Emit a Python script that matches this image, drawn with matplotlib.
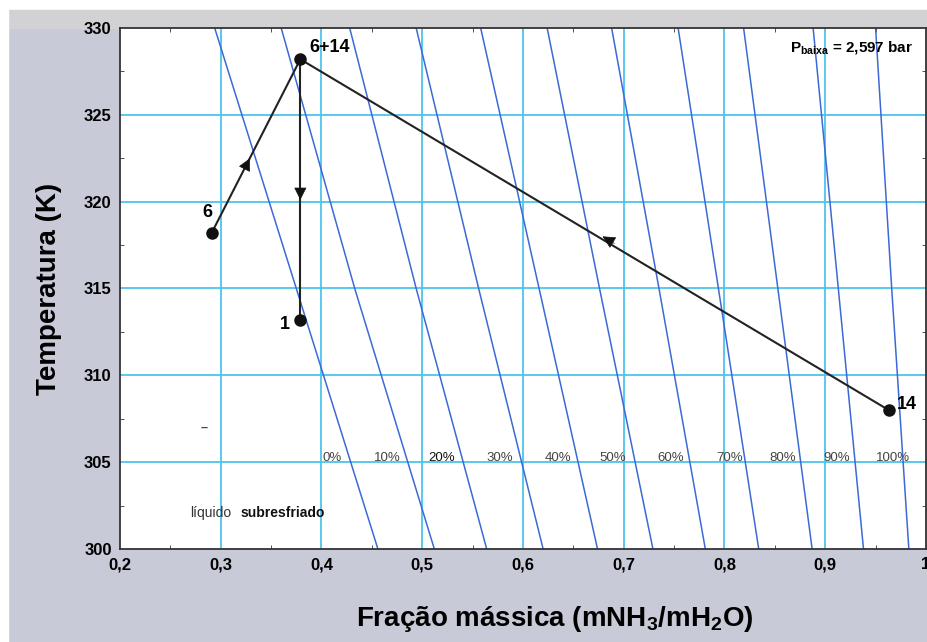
import numpy as np
import matplotlib
matplotlib.use("Agg")
import matplotlib.pyplot as plt
from matplotlib.patches import Rectangle

plt.rcParams['font.family'] = ['Liberation Sans', 'DejaVu Sans']
plt.rcParams['font.weight'] = 'bold'
plt.rcParams['axes.labelweight'] = 'bold'
plt.rcParams['mathtext.fontset'] = 'custom'
plt.rcParams['mathtext.rm'] = 'Liberation Sans:bold'
plt.rcParams['mathtext.bf'] = 'Liberation Sans:bold'
plt.rcParams['mathtext.it'] = 'Liberation Sans:bold'

# isolinhas de titulo (0% .. 100%): fracao em T=330, 315 e 300 K
iso_labels = ["0%", "10%", "20%", "30%", "40%", "50%", "60%", "70%", "80%", "90%", "100%"]
iso_x_top = [0.294, 0.360, 0.428, 0.494, 0.558, 0.624, 0.688, 0.754, 0.819, 0.888, 0.950]
iso_x_mid = [0.375, 0.433, 0.494, 0.556, 0.616, 0.676, 0.735, 0.794, 0.853, 0.913, 0.966]
iso_x_bot = [0.456, 0.512, 0.564, 0.620, 0.674, 0.729, 0.781, 0.834, 0.887, 0.938, 0.983]
iso_T = [330, 315, 300]
iso_lbl_x = [0.411, 0.465, 0.519, 0.577, 0.635, 0.689, 0.747, 0.805, 0.858, 0.911, 0.967]
iso_lbl_T = 305.25

# estados do ciclo
pontos = ["6", "6+14", "1", "14"]
px = [0.291, 0.379, 0.379, 0.963]
pT = [318.2, 328.2, 313.2, 308.0]

# trechos (indices de inicio, fim) e posicao da seta
trechos = [(0, 1), (1, 2), (3, 1)]
seta_x = [0.329, 0.379, 0.679]
seta_T = [322.5, 320.1, 318.0]

xticks = [0.2, 0.3, 0.4, 0.5, 0.6, 0.7, 0.8, 0.9, 1.0]
xticklabels = ["0,2", "0,3", "0,4", "0,5", "0,6", "0,7", "0,8", "0,9", "1"]
yticks = [300, 305, 310, 315, 320, 325, 330]

fig = plt.figure(figsize=(9.28, 6.42), dpi=100, facecolor='#c8cad8')
fig.patches.append(Rectangle((0, 0.985), 1, 0.015, transform=fig.transFigure,
                             color='white', zorder=-2))
fig.patches.append(Rectangle((0, 0.957), 1, 0.028, transform=fig.transFigure,
                             color='#d2d2d4', zorder=-2))
fig.patches.append(Rectangle((0, 0), 0.009, 1, transform=fig.transFigure,
                             color='white', zorder=-2))

ax = fig.add_axes([0.1293, 0.1449, 0.8685, 0.8115])
ax.set_xlim(0.2, 1.0)
ax.set_ylim(300, 330)

for v in xticks[1:-1]:
    ax.axvline(v, color='#4cc4ec', lw=1.3, zorder=1)
for v in yticks[1:-1]:
    ax.axhline(v, color='#4cc4ec', lw=1.3, zorder=1)

for i in range(len(iso_labels)):
    ax.plot([iso_x_top[i], iso_x_mid[i], iso_x_bot[i]], iso_T,
            color='#3b6ad6', lw=1.1, zorder=2)
    c = '#111111' if iso_labels[i] == "20%" else '#444444'
    ax.text(iso_lbl_x[i], iso_lbl_T, iso_labels[i], fontsize=9.5, color=c,
            ha='center', va='center', fontweight='normal', zorder=3)

for a, b in trechos:
    ax.plot([px[a], px[b]], [pT[a], pT[b]], color='#222222', lw=1.5, zorder=4)

# setas no meio dos trechos
for k, (a, b) in enumerate(trechos):
    dx = px[b] - px[a]
    dT = pT[b] - pT[a]
    n = np.hypot(dx / 0.8, dT / 30)
    s = 0.02
    ax.annotate('', xy=(seta_x[k], seta_T[k]),
                xytext=(seta_x[k] - dx / n * s, seta_T[k] - dT / n * s),
                arrowprops=dict(arrowstyle='-|>', color='#111111', lw=0.5,
                                mutation_scale=20, shrinkA=0, shrinkB=0),
                zorder=5)

ax.plot(px, pT, 'o', color='#111111', ms=8, zorder=6)

ax.text(0.287, 319.35, "6", fontsize=13, ha='center', va='center')
ax.text(0.388, 328.9, "6+14", fontsize=13, ha='left', va='center')
ax.text(0.364, 312.9, "1", fontsize=13, ha='center', va='center')
ax.text(0.971, 308.3, "14", fontsize=13, ha='left', va='center')
ax.text(0.865, 328.85, r"P$_{\mathrm{baixa}}$ = 2,597 bar", fontsize=11,
        ha='left', va='center')
ax.text(0.2695, 302.1, "líquido", fontsize=10, ha='left',
        va='center', color='#333333', fontweight='normal')
ax.text(0.320, 302.1, "subresfriado", fontsize=10, ha='left',
        va='center', color='#111111')
ax.text(0.284, 307.0, "–", fontsize=9, ha='center', va='center', color='#444444')

ax.set_xticks(xticks)
ax.set_xticklabels(xticklabels)
ax.set_yticks(yticks)
ax.set_xticks(np.arange(0.25, 1.0, 0.1), minor=True)
ax.set_yticks(np.arange(302.5, 330, 5), minor=True)
ax.tick_params(which='major', length=0, labelsize=12, pad=6)
ax.tick_params(which='minor', length=3, direction='in', top=True, right=True,
               color='#333333')
for s in ax.spines.values():
    s.set_color('#333333')
    s.set_linewidth(1.3)

ax.set_ylabel("Temperatura (K)", fontsize=20, labelpad=16, fontweight='bold')
ax.set_xlabel(r"Fração mássica (mNH$_3$/mH$_2$O)", fontsize=20, fontweight='bold')
ax.xaxis.set_label_coords(0.54, -0.105)

fig.savefig("out.png", dpi=100, facecolor=fig.get_facecolor())
